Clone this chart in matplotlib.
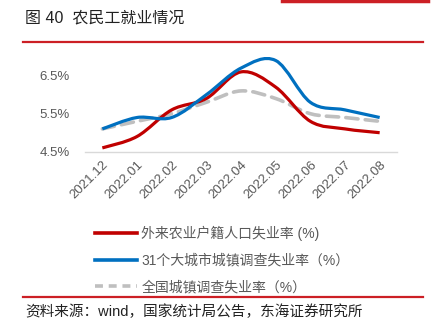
import numpy as np
import matplotlib
matplotlib.use("Agg")
from matplotlib import pyplot as plt
from matplotlib.path import Path
from matplotlib.patches import PathPatch
from matplotlib.lines import Line2D

plt.rcParams['font.family'] = ['Liberation Sans', 'Noto Sans CJK SC', 'DejaVu Sans']

months = ['2021.12', '2022.01', '2022.02', '2022.03', '2022.04',
          '2022.05', '2022.06', '2022.07', '2022.08']
migrant = [4.6, 4.9, 5.6, 5.9, 6.6, 6.2, 5.3, 5.1, 5.0]
cities31 = [5.1, 5.4, 5.4, 6.0, 6.7, 6.9, 5.8, 5.6, 5.4]
national = [5.1, 5.3, 5.5, 5.8, 6.1, 5.9, 5.5, 5.4, 5.3]
names = ['外来农业户籍人口失业率 (%)', '31个大城市城镇调查失业率（%）', '全国城镇调查失业率（%）']
yticks = [4.5, 5.5, 6.5]

RED = '#C00000'
BLUE = '#0070C0'
GRAY = '#BFBFBF'
TXT = '#595959'
LINE_RED = '#CC1F25'


def smooth_path(ys):
    # Excel style smoothed line: cubic bezier through every point
    xs = np.arange(len(ys), dtype=float)
    ys = np.asarray(ys, dtype=float)
    n = len(xs)
    verts = [(xs[0], ys[0])]
    codes = [Path.MOVETO]
    for i in range(n - 1):
        xp, yp = (xs[i - 1], ys[i - 1]) if i > 0 else (xs[i], ys[i])
        xn, yn = (xs[i + 2], ys[i + 2]) if i + 2 < n else (xs[i + 1], ys[i + 1])
        c1 = (xs[i] + (xs[i + 1] - xp) / 6, ys[i] + (ys[i + 1] - yp) / 6)
        c2 = (xs[i + 1] - (xn - xs[i]) / 6, ys[i + 1] - (yn - ys[i]) / 6)
        verts += [c1, c2, (xs[i + 1], ys[i + 1])]
        codes += [Path.CURVE4] * 3
    return Path(verts, codes)


fig = plt.figure(figsize=(4.4, 3.3), dpi=100)
ax = fig.add_axes([85 / 440, 1 - 151.7 / 330, 312 / 440, 95 / 330])

ax.add_patch(PathPatch(smooth_path(national), fill=False, edgecolor=GRAY, lw=2.6,
                       linestyle=(0, (3.4, 2.0)), capstyle='round', zorder=2))
ax.add_patch(PathPatch(smooth_path(migrant), fill=False, edgecolor=RED, lw=2.3, zorder=3))
ax.add_patch(PathPatch(smooth_path(cities31), fill=False, edgecolor=BLUE, lw=2.3, zorder=4))

ax.set_xlim(-0.5, len(months) - 0.5)
ax.set_ylim(4.5, 7.0)
ax.set_yticks(yticks)
ax.set_yticklabels(['%.1f%%' % v for v in yticks], color=TXT, fontsize=9.5)
ax.set_xticks(range(len(months)))
ax.set_xticklabels(months, rotation=45, ha='right', rotation_mode='anchor',
                   color=TXT, fontsize=9.5)
ax.tick_params(axis='y', length=0, pad=11)
ax.tick_params(axis='x', length=0, pad=5)
for s in ['top', 'right', 'left']:
    ax.spines[s].set_visible(False)
ax.spines['bottom'].set_color('#D9D9D9')
ax.spines['bottom'].set_linewidth(1.0)

handles = [Line2D([], [], color=RED, lw=2.6),
           Line2D([], [], color=BLUE, lw=2.6),
           Line2D([], [], color=GRAY, lw=2.6, linestyle=(0, (2.2, 1.6)))]
fig.legend(handles, names, loc='upper left', bbox_to_anchor=(88 / 440, 1 - 219 / 330),
           frameon=False, fontsize=10, labelcolor=TXT, handlelength=3.0,
           handletextpad=0.35, labelspacing=0.9, borderpad=0)

# header / footer decorations
fig.add_artist(Line2D([282 / 440, 428 / 440], [1 - 1 / 330, 1 - 1 / 330], color=LINE_RED, lw=2.5))
fig.add_artist(Line2D([23 / 440, 423 / 440], [1 - 42 / 330, 1 - 42 / 330], color=LINE_RED, lw=1.6))
fig.add_artist(Line2D([23 / 440, 423 / 440], [1 - 297 / 330, 1 - 297 / 330], color=LINE_RED, lw=1.6))
fig.text(25 / 440, 1 - 18 / 330, '图 40  农民工就业情况', fontsize=11.5, color='#222222', va='center')
fig.text(25 / 440, 1 - 312 / 330, '资料来源：wind，国家统计局公告，东海证券研究所',
         fontsize=10.5, color='#222222', va='center')

fig.savefig('out.png', dpi=100)
